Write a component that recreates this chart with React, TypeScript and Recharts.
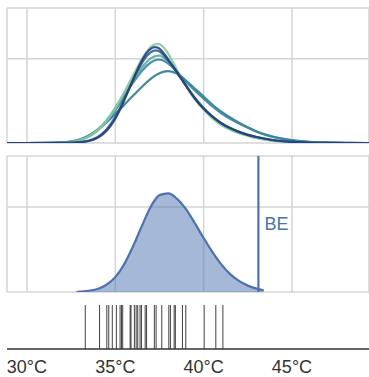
import {
  Area,
  AreaChart,
  CartesianGrid,
  Line,
  LineChart,
  ReferenceLine,
  XAxis,
  YAxis,
} from "recharts";

// temperature samples (°C) for the top density curves
const temps = [
  28.87, 30, 31, 32, 32.5, 33, 33.5, 34, 34.5, 35, 35.5, 36, 36.5, 37, 37.5, 38,
  38.5, 39, 39.5, 40, 40.5, 41, 41.5, 42, 42.5, 43, 43.5, 44, 45, 46, 47, 48, 49.36,
];

const lightGreen = [
  0, 0, 0, 0.001, 0.002, 0.006, 0.014, 0.029, 0.05, 0.081, 0.119, 0.16, 0.2, 0.231,
  0.24, 0.214, 0.172, 0.133, 0.102, 0.079, 0.057, 0.042, 0.031, 0.023, 0.017, 0.011,
  0.008, 0.005, 0.002, 0.0005, 0.0001, 0, 0,
];
const green = [
  0, 0, 0, 0.001, 0.002, 0.007, 0.015, 0.031, 0.052, 0.083, 0.117, 0.15, 0.18, 0.203,
  0.211, 0.195, 0.167, 0.136, 0.107, 0.083, 0.062, 0.045, 0.033, 0.025, 0.018, 0.012,
  0.008, 0.005, 0.002, 0.001, 0.0002, 0, 0,
];
const blueTeal = [
  0, 0, 0, 0.001, 0.002, 0.007, 0.014, 0.029, 0.049, 0.076, 0.11, 0.143, 0.172, 0.193,
  0.201, 0.19, 0.169, 0.145, 0.124, 0.105, 0.086, 0.07, 0.057, 0.046, 0.036, 0.026,
  0.019, 0.013, 0.005, 0.002, 0.001, 0.0001, 0,
];
const teal = [
  0, 0, 0, 0.001, 0.004, 0.008, 0.017, 0.031, 0.048, 0.069, 0.09, 0.112, 0.133, 0.153,
  0.167, 0.172, 0.166, 0.148, 0.129, 0.11, 0.09, 0.074, 0.06, 0.048, 0.037, 0.027,
  0.02, 0.014, 0.006, 0.002, 0.001, 0.0001, 0,
];
const blue = [
  0, 0, 0, 0.0002, 0.001, 0.002, 0.005, 0.013, 0.03, 0.06, 0.102, 0.15, 0.192, 0.219,
  0.222, 0.195, 0.167, 0.136, 0.105, 0.081, 0.062, 0.046, 0.035, 0.026, 0.019, 0.014,
  0.01, 0.006, 0.002, 0.001, 0.0002, 0, 0,
];
const navy = [
  0, 0, 0, 0.0002, 0.0005, 0.001, 0.004, 0.011, 0.026, 0.055, 0.1, 0.15, 0.198, 0.228,
  0.229, 0.197, 0.169, 0.136, 0.105, 0.081, 0.062, 0.046, 0.035, 0.026, 0.019, 0.014,
  0.01, 0.006, 0.002, 0.001, 0.0002, 0, 0,
];

// pooled density in the middle panel
const pooledTemps = [
  32.8, 33, 33.5, 34, 34.5, 35, 35.5, 36, 36.5, 37, 37.5, 38, 38.5, 39, 39.5, 40, 40.5,
  41, 41.5, 42, 42.5, 43, 43.4,
];
const pooled = [
  0, 0.001, 0.003, 0.007, 0.017, 0.035, 0.065, 0.107, 0.155, 0.2, 0.228, 0.232, 0.219,
  0.195, 0.162, 0.127, 0.094, 0.065, 0.042, 0.026, 0.015, 0.008, 0.004,
];
const beTemp = 43.1;

// observations (rug)
const observations = [
  33.3, 34.11, 34.52, 34.63, 34.83, 35.06, 35.27, 35.35, 35.42, 35.84, 35.89, 36.08,
  36.18, 36.27, 36.4, 36.48, 36.69, 36.77, 37.21, 37.31, 37.63, 38.03, 38.12, 38.33,
  38.4, 38.8, 38.99, 40.03, 40.69, 41.09,
];

const xTicks = [30, 35, 40, 45];
const xDomain = [28.87, 49.36];
const yTicks = [0, 0.2, 0.32];

const series = [
  { key: "teal", values: teal, color: "#2b7d96" },
  { key: "blueTeal", values: blueTeal, color: "#36879e" },
  { key: "green", values: green, color: "#59ad9c" },
  { key: "lightGreen", values: lightGreen, color: "#84ca9d" },
  { key: "blue", values: blue, color: "#2d5e98" },
  { key: "navy", values: navy, color: "#263f7b" },
];

const curveData = temps.map((t, i) => {
  const row: Record<string, number> = { t };
  series.forEach((s) => (row[s.key] = s.values[i]));
  return row;
});
const pooledData = pooledTemps.map((t, i) => ({ t, d: pooled[i] }));
const rugData = observations.map((t) => ({ t, y: 1 }));

const font = "'Liberation Sans', Arial, sans-serif";
const gridColor = "#d4d4d4";
const beColor = "#4c72b0";

export default function App() {
  return (
    <div style={{ position: "absolute", left: 0, top: 0, width: 369, height: 377, fontFamily: font }}>
      <div style={{ position: "absolute", left: 0, top: 0 }}>
        <LineChart
          width={369}
          height={150}
          data={curveData}
          margin={{ top: 8, right: 0, bottom: 7, left: 7 }}
        >
          <CartesianGrid stroke={gridColor} strokeWidth={1.5} />
          <XAxis dataKey="t" type="number" domain={xDomain} ticks={xTicks} hide allowDataOverflow />
          <YAxis type="number" domain={[0, 0.32]} ticks={yTicks} hide allowDataOverflow />
          {series.map((s) => (
            <Line
              key={s.key}
              dataKey={s.key}
              type="basis"
              stroke={s.color}
              strokeWidth={2.2}
              strokeOpacity={0.9}
              dot={false}
              isAnimationActive={false}
            />
          ))}
        </LineChart>
      </div>
      <div style={{ position: "absolute", left: 0, top: 150 }}>
        <AreaChart
          width={369}
          height={145}
          data={pooledData}
          margin={{ top: 6, right: 0, bottom: 3, left: 7 }}
        >
          <CartesianGrid stroke={gridColor} strokeWidth={1.5} />
          <XAxis dataKey="t" type="number" domain={xDomain} ticks={xTicks} hide allowDataOverflow />
          <YAxis type="number" domain={[0, 0.32]} ticks={yTicks} hide allowDataOverflow />
          <Area
            dataKey="d"
            type="monotone"
            stroke={beColor}
            strokeWidth={2.2}
            fill={beColor}
            fillOpacity={0.5}
            isAnimationActive={false}
          />
          <ReferenceLine
            x={beTemp}
            stroke={beColor}
            strokeWidth={2.2}
            label={{ value: "BE", position: "right", offset: 6, fill: beColor, fontSize: 18, fontFamily: font }}
          />
        </AreaChart>
      </div>
      <div style={{ position: "absolute", left: 0, top: 295 }}>
        <LineChart
          width={369}
          height={82}
          data={rugData}
          margin={{ top: 10, right: 0, bottom: 0, left: 7 }}
        >
          <XAxis
            dataKey="t"
            type="number"
            domain={xDomain}
            ticks={xTicks}
            tickFormatter={(v) => `${v}°C`}
            height={28}
            tickLine={false}
            tickSize={6}
            tickMargin={5}
            axisLine={{ stroke: "#333", strokeWidth: 1.6 }}
            tick={{ fill: "#333", fontSize: 18, fontFamily: font }}
            allowDataOverflow
          />
          <YAxis type="number" domain={[0, 1]} hide allowDataOverflow />
          <Line dataKey="y" stroke="none" dot={false} activeDot={false} isAnimationActive={false} />
          {observations.map((t, i) => (
            <ReferenceLine key={i} x={t} stroke="#000" strokeOpacity={0.75} strokeWidth={1} />
          ))}
        </LineChart>
      </div>
    </div>
  );
}
